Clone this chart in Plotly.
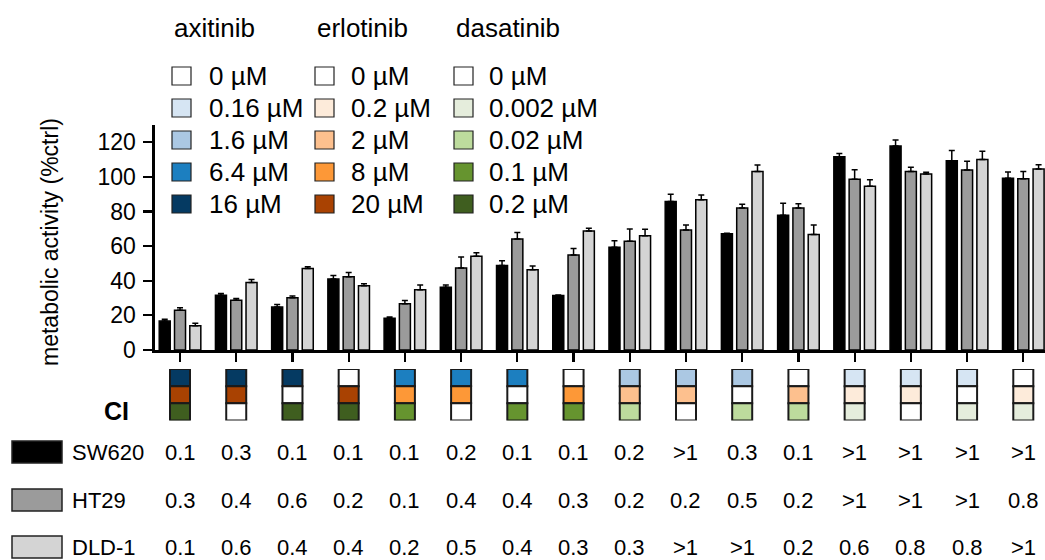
import plotly.graph_objects as go

W, H = 1045, 560
FONT = "Liberation Sans, Arial, sans-serif"

# ---------------- data ----------------
groups = list(range(16))
cell_lines = ["SW620", "HT29", "DLD-1"]
sw620 = [16.7, 31.7, 24.8, 41.0, 18.3, 36.3, 48.8, 31.5, 59.3, 85.8, 67.2, 77.9, 111.7, 117.9, 109.4, 99.2]
sw620_err = [1.0, 1.0, 1.5, 2.1, 0.8, 1.3, 2.7, 0.3, 3.8, 4.2, 0.3, 6.9, 1.9, 3.5, 5.8, 3.6]
ht29 = [22.9, 28.7, 30.2, 42.3, 26.7, 47.4, 64.1, 54.9, 62.8, 69.3, 82.1, 82.0, 98.7, 103.1, 104.0, 99.0]
ht29_err = [1.5, 1.1, 1.0, 2.5, 1.9, 6.3, 3.8, 3.8, 7.1, 2.9, 2.1, 2.5, 5.4, 2.5, 5.0, 4.2]
dld1 = [14.0, 39.0, 47.1, 37.1, 34.8, 54.1, 46.4, 68.7, 66.0, 86.8, 103.1, 66.8, 94.6, 101.7, 110.0, 104.6]
dld1_err = [1.5, 1.8, 1.0, 1.2, 2.7, 2.1, 2.1, 1.7, 3.8, 2.7, 3.8, 5.4, 3.8, 1.0, 4.8, 2.5]

# drug concentrations per group (µM)
axitinib_conc = [16, 16, 16, 0, 6.4, 6.4, 6.4, 0, 1.6, 1.6, 1.6, 0, 0.16, 0.16, 0.16, 0]
erlotinib_conc = [20, 20, 0, 20, 8, 8, 0, 8, 2, 2, 0, 2, 0.2, 0.2, 0, 0.2]
dasatinib_conc = [0.2, 0, 0.2, 0.2, 0.1, 0, 0.1, 0.1, 0.02, 0, 0.02, 0.02, 0.002, 0, 0.002, 0.002]

axitinib_levels = [0, 0.16, 1.6, 6.4, 16]
erlotinib_levels = [0, 0.2, 2, 8, 20]
dasatinib_levels = [0, 0.002, 0.02, 0.1, 0.2]
axitinib_labels = ["0 µM", "0.16 µM", "1.6 µM", "6.4 µM", "16 µM"]
erlotinib_labels = ["0 µM", "0.2 µM", "2 µM", "8 µM", "20 µM"]
dasatinib_labels = ["0 µM", "0.002 µM", "0.02 µM", "0.1 µM", "0.2 µM"]

sw620_ci = ['0.1', '0.3', '0.1', '0.1', '0.1', '0.2', '0.1', '0.1', '0.2', '>1', '0.3', '0.1', '>1', '>1', '>1', '>1']
ht29_ci = ['0.3', '0.4', '0.6', '0.2', '0.1', '0.4', '0.4', '0.3', '0.2', '0.2', '0.5', '0.2', '>1', '>1', '>1', '0.8']
dld1_ci = ['0.1', '0.6', '0.4', '0.4', '0.2', '0.5', '0.4', '0.3', '0.3', '>1', '>1', '0.2', '0.6', '0.8', '0.8', '>1']

# ---------------- styles ----------------
bar_colors = ["#000000", "#9b9b9b", "#d4d4d4"]
ax_palette = ["#ffffff", "#d6e5f3", "#abc8e3", "#1c7fc0", "#053a62"]
erl_palette = ["#ffffff", "#fdebda", "#fdc08e", "#fd9837", "#a94202"]
das_palette = ["#ffffff", "#e5eddc", "#bddb9d", "#66942f", "#3f5e1f"]


def px(x):
    return x / W


def py(y):
    return 1 - y / H


fig = go.Figure()

bar_w = 0.196
step = 0.272
series = [(sw620, sw620_err), (ht29, ht29_err), (dld1, dld1_err)]
for k, (vals, errs) in enumerate(series):
    fig.add_trace(go.Bar(
        x=groups, y=vals, width=bar_w, offset=(k - 1) * step - bar_w / 2,
        marker=dict(color=bar_colors[k], line=dict(color="black", width=1.5)),
        error_y=dict(type="data", array=errs, arrayminus=[0] * len(errs), symmetric=False,
                     color="black", thickness=1.5, width=3),
        name=cell_lines[k], showlegend=False, xaxis="x", yaxis="y",
    ))

# treatment squares below the axis (top: axitinib, middle: erlotinib, bottom: dasatinib)
sq_w = 0.356
rows = [
    (axitinib_conc, axitinib_levels, ax_palette, 2),
    (erlotinib_conc, erlotinib_levels, erl_palette, 1),
    (dasatinib_conc, dasatinib_levels, das_palette, 0),
]
for conc, levels, pal, base in rows:
    fig.add_trace(go.Bar(
        x=groups, y=[1] * len(groups), base=[base] * len(groups), width=sq_w,
        marker=dict(color=[pal[levels.index(c)] for c in conc], line=dict(color="#1a1a1a", width=2)),
        showlegend=False, xaxis="x2", yaxis="y2",
    ))

annotations = []
shapes = []

# y-axis title
annotations.append(dict(text="metabolic activity (%ctrl)", x=px(50), y=py(242), xref="paper", yref="paper",
                        textangle=-90, showarrow=False, font=dict(size=23, color="black", family=FONT),
                        xanchor="center", yanchor="middle"))

# drug legend
cols = [
    ("axitinib", axitinib_labels, ax_palette, 172, 207),
    ("erlotinib", erlotinib_labels, erl_palette, 315, 349),
    ("dasatinib", dasatinib_labels, das_palette, 454, 487),
]
row_y = [76, 108, 140, 172, 204]
for title, labels, pal, bx, tx in cols:
    annotations.append(dict(text=title, x=px(bx), y=py(28), xref="paper", yref="paper", showarrow=False,
                            xanchor="left", yanchor="middle", font=dict(size=26, color="black", family=FONT)))
    for lab, col, ry in zip(labels, pal, row_y):
        shapes.append(dict(type="rect", xref="paper", yref="paper", x0=px(bx), x1=px(bx + 19),
                           y0=py(ry - 9), y1=py(ry + 9), fillcolor=col, line=dict(color="#222222", width=1.2)))
        annotations.append(dict(text=lab, x=px(tx), y=py(ry), xref="paper", yref="paper", showarrow=False,
                                xanchor="left", yanchor="middle", font=dict(size=26, color="black", family=FONT)))

# CI label
annotations.append(dict(text="<b>CI</b>", x=px(116), y=py(411), xref="paper", yref="paper", showarrow=False,
                        xanchor="center", yanchor="middle", font=dict(size=25, color="black", family=FONT)))

# CI table
table_rows = [(cell_lines[0], sw620_ci, 452), (cell_lines[1], ht29_ci, 500), (cell_lines[2], dld1_ci, 547)]
for k, (name, ci, ry) in enumerate(table_rows):
    shapes.append(dict(type="rect", xref="paper", yref="paper", x0=px(12), x1=px(62), y0=py(ry - 11),
                       y1=py(ry + 11), fillcolor=bar_colors[k], line=dict(color="#222222", width=1.5)))
    annotations.append(dict(text=name, x=px(70), y=py(ry), xref="paper", yref="paper", showarrow=False,
                            xanchor="left", yanchor="middle", font=dict(size=22, color="black", family=FONT)))
    for g, v in zip(groups, ci):
        annotations.append(dict(text=v, x=g, y=py(ry), xref="x", yref="paper", showarrow=False,
                                xanchor="center", yanchor="middle", font=dict(size=22, color="black", family=FONT)))

fig.update_layout(
    template="none",
    width=W, height=H, margin=dict(l=0, r=0, t=0, b=0, pad=0, autoexpand=False),
    paper_bgcolor="white", plot_bgcolor="white",
    barmode="overlay", showlegend=False,
    font=dict(family=FONT, color="black"),
    xaxis=dict(domain=[155 / W, 1], range=[-0.445, 15.386], tickvals=groups, showticklabels=False,
               ticks="outside", ticklen=9, tickwidth=2.2, tickcolor="black", showline=True,
               linewidth=2.6, linecolor="black", showgrid=False, zeroline=False, anchor="y",
               automargin=False),
    yaxis=dict(domain=[py(350), py(125)], range=[0, 130], tickvals=[0, 20, 40, 60, 80, 100, 120],
               ticks="outside", ticklen=9, tickwidth=2.2, tickcolor="black", showline=True,
               linewidth=2.6, linecolor="black", showgrid=False, zeroline=False,
               tickfont=dict(size=23, color="black", family=FONT), ticklabelstandoff=3, anchor="x",
               automargin=False),
    xaxis2=dict(domain=[155 / W, 1], matches="x", visible=False, anchor="y2", automargin=False),
    yaxis2=dict(domain=[py(420.5), py(369)], range=[0, 3], visible=False, anchor="x2", automargin=False),
    annotations=annotations, shapes=shapes,
)

page_css = (
    "var s=document.createElement('style');"
    "s.textContent='html,body{margin:0;padding:0;overflow:hidden;width:1045px;height:560px;}';"
    "document.head.appendChild(s);"
)
fig.write_html("out.html", config={"displayModeBar": False, "staticPlot": True}, post_script=page_css)
